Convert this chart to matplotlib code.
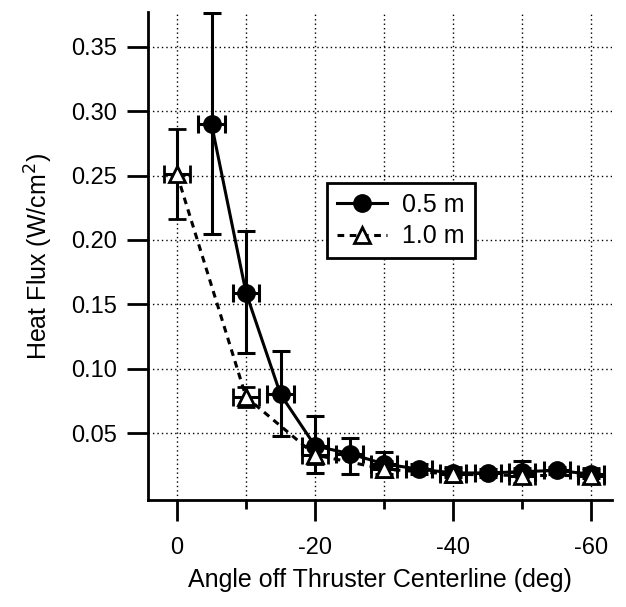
import matplotlib
matplotlib.use("Agg")
import matplotlib.pyplot as plt
from matplotlib.ticker import FixedLocator
from matplotlib.lines import Line2D

plt.rcParams['font.family'] = ['Liberation Sans', 'DejaVu Sans']

# 0.5 m series
x05 = [-5, -10, -15, -20, -25, -30, -35, -40, -45, -50, -55, -60]
y05 = [0.290, 0.159, 0.080, 0.040, 0.034, 0.026, 0.022, 0.019, 0.019, 0.020, 0.021, 0.018]
y05_lo = [0.085, 0.047, 0.032, 0.021, 0.016, 0.008, 0.004, 0.003, 0.003, 0.003, 0.003, 0.003]
y05_hi = [0.086, 0.048, 0.034, 0.023, 0.012, 0.009, 0.004, 0.003, 0.003, 0.008, 0.003, 0.003]

# 1.0 m series
x10 = [0, -10, -20, -30, -40, -50, -60]
y10 = [0.251, 0.078, 0.033, 0.022, 0.018, 0.017, 0.017]
y10_err = [0.035, 0.008, 0.007, 0.006, 0.006, 0.006, 0.006]

xerr_deg = 1.9

xticks = [0, -20, -40, -60]
xtick_labels = ['0', '-20', '-40', '-60']
yticks = [0.05, 0.10, 0.15, 0.20, 0.25, 0.30, 0.35]
ytick_labels = ['0.05', '0.10', '0.15', '0.20', '0.25', '0.30', '0.35']

fig = plt.figure(figsize=(6.26, 6.07), dpi=100)
ax = fig.add_axes([0.2364, 0.1763, 0.7412, 0.8037])

LW = 2.2
ax.errorbar(x05, y05, yerr=[y05_lo, y05_hi], xerr=xerr_deg, fmt='-o', color='black',
            lw=LW, elinewidth=LW, capsize=6.5, capthick=LW, ms=12.5, mfc='black', mec='black',
            zorder=3)
ax.errorbar(x10, y10, yerr=y10_err, xerr=xerr_deg, fmt='--^', color='black',
            lw=LW, elinewidth=LW, capsize=6.5, capthick=LW, ms=12, mfc='white', mec='black',
            mew=2, dashes=(2.2, 1.8), zorder=3)

ax.set_xlim(4.2, -63)
ax.set_ylim(-0.002, 0.377)

ax.xaxis.set_major_locator(FixedLocator(xticks))
ax.set_xticklabels(xtick_labels)
ax.xaxis.set_minor_locator(FixedLocator([-10, -30, -50]))
ax.set_yticks(yticks)
ax.set_yticklabels(ytick_labels)

# grid at every 10 deg
for gx in [0, -10, -20, -30, -40, -50, -60]:
    ax.axvline(gx, color='black', lw=1, ls=(0, (1, 2.2)), zorder=1)
for gy in yticks:
    ax.axhline(gy, color='black', lw=1, ls=(0, (1, 2.2)), zorder=1)

for s in ['top', 'right']:
    ax.spines[s].set_visible(False)
for s in ['left', 'bottom']:
    ax.spines[s].set_linewidth(2)

ax.tick_params(axis='both', which='major', direction='out', length=15, width=2,
               labelsize=17, pad=7)
ax.tick_params(axis='x', which='major', pad=12)
ax.tick_params(axis='x', which='minor', direction='out', length=6.5, width=2)

ax.set_xlabel('Angle off Thruster Centerline (deg)', fontsize=18, labelpad=6)
ax.set_ylabel('Heat Flux (W/cm$^2$)', fontsize=18, labelpad=12)

handles = [
    Line2D([], [], color='black', lw=LW, marker='o', ms=12.5, mfc='black', mec='black'),
    Line2D([], [], color='black', lw=LW, ls='--', dashes=(2.2, 1.8), marker='^', ms=12,
           mfc='white', mec='black', mew=2),
]
leg = ax.legend(handles, ['0.5 m', '1.0 m'], loc='upper left',
                bbox_to_anchor=(0.386, 0.65), fontsize=18,
                frameon=True, fancybox=False, edgecolor='black', framealpha=1,
                handlelength=2.0, handletextpad=0.6, borderpad=0.4, labelspacing=0.3,
                borderaxespad=0)
leg.get_frame().set_linewidth(2)

fig.savefig('out.png', dpi=100)
